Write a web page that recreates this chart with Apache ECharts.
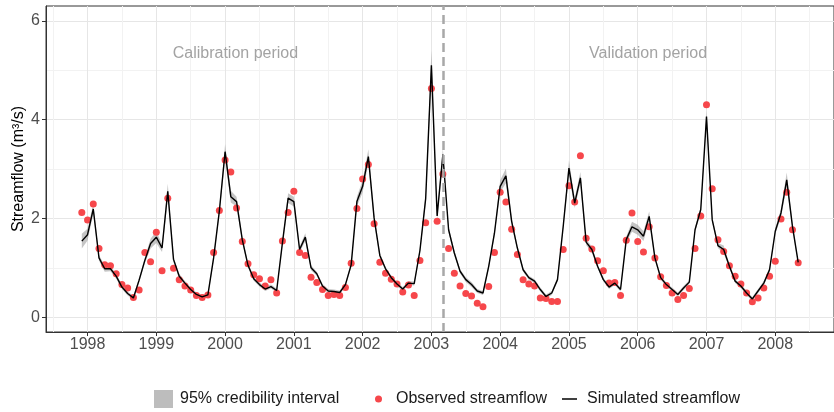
<!DOCTYPE html>
<html>
<head>
<meta charset="utf-8">
<script src="https://cdn.jsdelivr.net/npm/echarts@6/dist/echarts.min.js"></script>
<style>
  html, body { margin: 0; padding: 0; background: #fff; }
  #chart { width: 834px; height: 412px; }
</style>
</head>
<body>
<div id="chart"></div>
<script>
// monthly series, Dec 1997 .. May 2008
const startYear = 1997
const startMonth = 12

const observed = [
  2.12,
  1.97, 2.29, 1.39, 1.06, 1.04, 0.88, 0.66, 0.59, 0.40, 0.55, 1.31, 1.12, // 1998
  1.72, 0.94, 2.41, 0.99, 0.76, 0.63, 0.55, 0.44, 0.40, 0.45, 1.31, 2.16, // 1999
  3.18, 2.94, 2.21, 1.53, 1.08, 0.86, 0.78, 0.63, 0.76, 0.49, 1.54, 2.12, // 2000
  2.55, 1.31, 1.25, 0.81, 0.70, 0.56, 0.44, 0.46, 0.44, 0.60, 1.09, 2.20, // 2001
  2.80, 3.09, 1.89, 1.11, 0.89, 0.77, 0.67, 0.51, 0.65, 0.44, 1.15, 1.91, // 2002
  4.63, 1.94, 2.90, 1.39, 0.89, 0.63, 0.48, 0.43, 0.28, 0.21, 0.62, 1.31, // 2003
  2.53, 2.33, 1.78, 1.27, 0.76, 0.67, 0.63, 0.39, 0.38, 0.32, 0.32, 1.37, // 2004
  2.66, 2.33, 3.27, 1.60, 1.38, 1.14, 0.94, 0.69, 0.70, 0.44, 1.56, 2.11, // 2005
  1.53, 1.32, 1.83, 1.20, 0.82, 0.64, 0.49, 0.36, 0.44, 0.58, 1.39, 2.05, // 2006
  4.30, 2.60, 1.57, 1.33, 1.04, 0.83, 0.67, 0.49, 0.31, 0.39, 0.59, 0.83, // 2007
  1.13, 1.99, 2.53, 1.77, 1.10                                            // 2008
]

const simulated = [
  1.54,
  1.67, 2.19, 1.20, 0.98, 0.98, 0.83, 0.61, 0.48, 0.39, 0.75, 1.15, 1.49,
  1.62, 1.40, 2.55, 1.17, 0.83, 0.69, 0.56, 0.46, 0.41, 0.45, 1.20, 2.15,
  3.35, 2.44, 2.34, 1.57, 1.05, 0.78, 0.66, 0.57, 0.62, 0.54, 1.50, 2.41,
  2.34, 1.37, 1.62, 1.00, 0.88, 0.63, 0.53, 0.52, 0.50, 0.66, 1.06, 2.34,
  2.65, 3.25, 2.01, 1.25, 0.98, 0.80, 0.67, 0.57, 0.69, 0.68, 1.35, 2.40,
  5.10, 2.05, 3.29, 1.77, 1.30, 0.93, 0.76, 0.66, 0.53, 0.49, 1.03, 1.70,
  2.65, 2.86, 1.94, 1.40, 0.96, 0.80, 0.73, 0.56, 0.42, 0.49, 0.76, 1.84,
  3.02, 2.31, 2.82, 1.52, 1.37, 1.03, 0.76, 0.61, 0.69, 0.56, 1.57, 1.83,
  1.77, 1.64, 2.04, 1.20, 0.80, 0.66, 0.56, 0.46, 0.59, 0.71, 1.77, 2.18,
  4.06, 1.97, 1.45, 1.37, 1.03, 0.73, 0.63, 0.49, 0.37, 0.53, 0.69, 0.96,
  1.74, 2.11, 2.78, 1.84, 1.11
]

// half width of the 95% band
const ciHalf = [
  0.15,
  0.12, 0.10, 0.06, 0.06, 0.05, 0.05, 0.04, 0.04, 0.04, 0.05, 0.06, 0.10,
  0.12, 0.08, 0.15, 0.06, 0.05, 0.04, 0.04, 0.04, 0.04, 0.04, 0.06, 0.08,
  0.15, 0.12, 0.10, 0.06, 0.05, 0.04, 0.04, 0.04, 0.04, 0.04, 0.06, 0.10,
  0.10, 0.06, 0.08, 0.05, 0.04, 0.04, 0.04, 0.04, 0.04, 0.04, 0.05, 0.10,
  0.12, 0.15, 0.08, 0.05, 0.04, 0.04, 0.04, 0.04, 0.04, 0.04, 0.06, 0.10,
  0.30, 0.08, 0.12, 0.06, 0.05, 0.04, 0.05, 0.05, 0.04, 0.04, 0.05, 0.06,
  0.12, 0.15, 0.08, 0.05, 0.04, 0.04, 0.04, 0.04, 0.04, 0.04, 0.04, 0.06,
  0.15, 0.10, 0.12, 0.06, 0.06, 0.04, 0.04, 0.04, 0.04, 0.04, 0.06, 0.10,
  0.10, 0.10, 0.10, 0.05, 0.04, 0.04, 0.04, 0.04, 0.04, 0.04, 0.05, 0.06,
  0.12, 0.06, 0.05, 0.08, 0.04, 0.04, 0.04, 0.04, 0.04, 0.04, 0.04, 0.05,
  0.06, 0.08, 0.15, 0.06, 0.04
]

const yearTicks = [1998, 1999, 2000, 2001, 2002, 2003, 2004, 2005, 2006, 2007, 2008]
const yTicks = [0, 2, 4, 6]
const xGridValues = [1997.5, 1998, 1998.5, 1999, 1999.5, 2000, 2000.5, 2001, 2001.5, 2002, 2002.5,
  2003, 2003.5, 2004, 2004.5, 2005, 2005.5, 2006, 2006.5, 2007, 2007.5, 2008, 2008.5]
const yGridValues = [0, 1, 2, 3, 4, 5, 6]
const splitDate = 2003 + 2 / 12 // start of validation, Mar 2003

// decimal-year position of each month
const xs = observed.map((_, i) => startYear + (startMonth - 1 + i) / 12)

const FONT = '"Liberation Sans", Arial, sans-serif'
const chart = echarts.init(document.getElementById('chart'))

const hiddenAxis = {
  axisLine: { show: false },
  axisLabel: { show: false }
}

const option = {
  animation: false,
  textStyle: { fontFamily: FONT },
  grid: {
    left: 46, top: 6, width: 797, height: 326,
    show: true, borderColor: '#333', borderWidth: 1
  },
  xAxis: [
    {
      type: 'value', min: 1997.396, max: 2008.854,
      ...hiddenAxis,
      axisTick: { show: false, customValues: xGridValues },
      splitLine: { show: true, lineStyle: { color: ['#f2f2f2', '#e6e6e6'], width: 1 } }
    },
    {
      type: 'value', min: 1997.396, max: 2008.854, position: 'bottom',
      axisLine: { show: true, onZero: false, lineStyle: { color: '#333' } },
      axisTick: { show: true, length: 4, customValues: yearTicks, lineStyle: { color: '#333' } },
      axisLabel: { customValues: yearTicks, color: '#4d4d4d', fontSize: 16, margin: 5, formatter: v => String(v) },
      splitLine: { show: false }
    }
  ],
  yAxis: [
    {
      type: 'value', min: -0.3, max: 6.3,
      ...hiddenAxis,
      axisTick: { show: false, customValues: yGridValues },
      splitLine: { show: true, lineStyle: { color: ['#e6e6e6', '#f2f2f2'], width: 1 } }
    },
    {
      type: 'value', min: -0.3, max: 6.3, position: 'left',
      name: 'Streamflow (m³/s)', nameLocation: 'middle', nameGap: 19, nameMoveOverlap: false,
      nameTextStyle: { color: '#000', fontSize: 16 },
      axisLine: { show: true, onZero: false, lineStyle: { color: '#333' } },
      axisTick: { show: true, length: 4, customValues: yTicks, lineStyle: { color: '#333' } },
      axisLabel: { customValues: yTicks, color: '#4d4d4d', fontSize: 16, margin: 6 },
      splitLine: { show: false }
    }
  ],
  legend: [
    {
      left: 154, top: 390, padding: 0, itemWidth: 19, itemHeight: 18,
      textStyle: { color: '#1a1a1a', fontSize: 16, lineHeight: 18, padding: [0, 0, 0, 2] },
      data: [{ name: '95% credibility interval', icon: 'rect', itemStyle: { color: '#bdbdbd' } }]
    },
    {
      left: 375, top: 390, padding: 0, itemWidth: 17, itemHeight: 7,
      textStyle: { color: '#1a1a1a', fontSize: 16, lineHeight: 18, padding: [0, 0, 0, 4] },
      data: [{ name: 'Observed streamflow', icon: 'circle' }]
    },
    {
      left: 562, top: 390, padding: 0, itemWidth: 15, itemHeight: 1.5,
      textStyle: { color: '#1a1a1a', fontSize: 16, lineHeight: 18, padding: [0, 0, 0, 5] },
      data: [{ name: 'Simulated streamflow', icon: 'rect', itemStyle: { color: '#000' } }]
    }
  ],
  series: [
    {
      name: '95% credibility interval',
      type: 'custom',
      xAxisIndex: 0, yAxisIndex: 0,
      data: [[xs[0], simulated[0]]],
      itemStyle: { color: '#bdbdbd' },
      z: 1,
      renderItem: (params, api) => {
        const pts = []
        for (let i = 0; i < xs.length; i++) pts.push(api.coord([xs[i], simulated[i] + ciHalf[i]]))
        for (let i = xs.length - 1; i >= 0; i--) pts.push(api.coord([xs[i], simulated[i] - ciHalf[i]]))
        return { type: 'polygon', shape: { points: pts }, style: { fill: 'rgba(150,150,150,0.55)' } }
      }
    },
    {
      name: 'Observed streamflow',
      type: 'scatter',
      xAxisIndex: 0, yAxisIndex: 0,
      data: xs.map((x, i) => [x, observed[i]]),
      symbolSize: 7,
      itemStyle: { color: '#f6474b', opacity: 1 },
      z: 3
    },
    {
      name: 'Simulated streamflow',
      type: 'line',
      xAxisIndex: 0, yAxisIndex: 0,
      data: xs.map((x, i) => [x, simulated[i]]),
      showSymbol: false,
      lineStyle: { color: '#000', width: 1.4 },
      itemStyle: { color: '#000' },
      z: 4,
      markLine: {
        silent: true, symbol: 'none', animation: false,
        label: { show: false },
        lineStyle: { color: '#a8a8a8', type: [9, 5], width: 2.5 },
        data: [{ xAxis: splitDate }]
      },
      markPoint: {
        silent: true, symbol: 'circle', symbolSize: 0,
        label: { show: true, color: '#a3a3a3', fontSize: 16, position: 'inside', formatter: p => p.name },
        data: [
          { name: 'Calibration period', coord: [2000.15, 5.33] },
          { name: 'Validation period', coord: [2006.15, 5.33] }
        ]
      }
    }
  ]
}

chart.setOption(option)
</script>
</body>
</html>
